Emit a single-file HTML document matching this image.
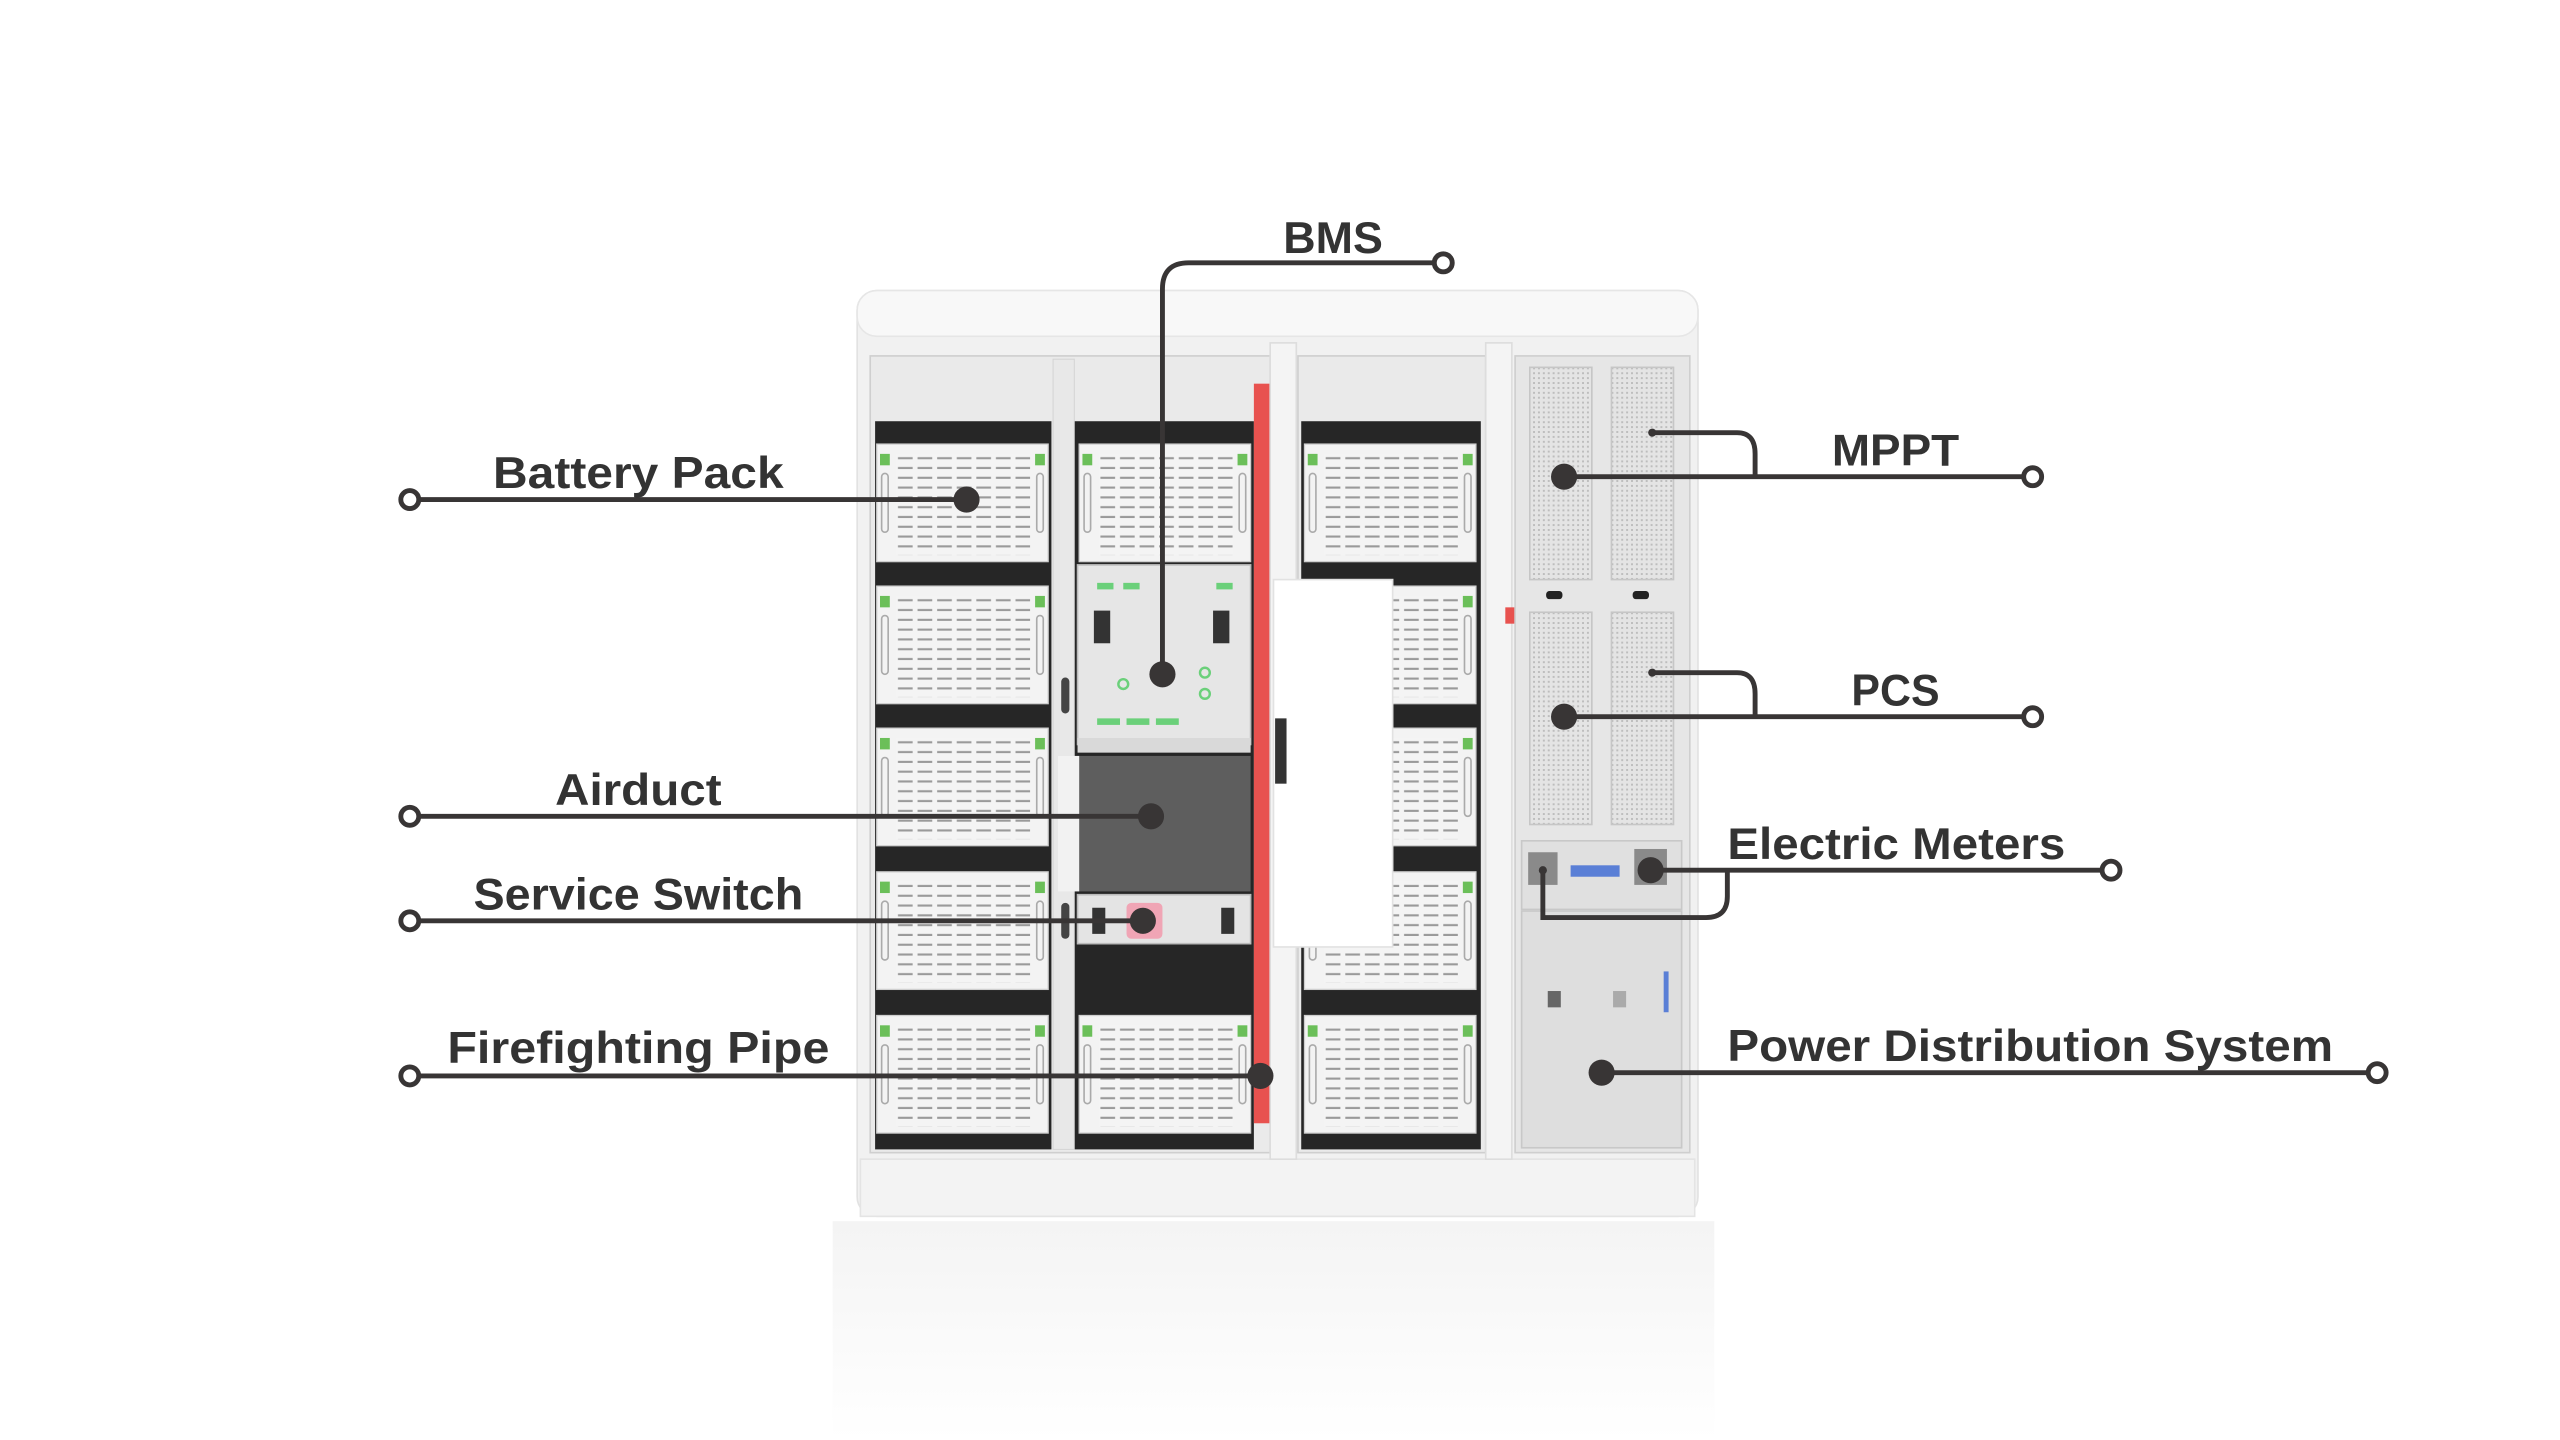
<!DOCTYPE html>
<html><head><meta charset="utf-8"><style>
html,body{margin:0;padding:0;background:#fff;width:2560px;height:1440px;overflow:hidden}
svg{display:block}
text{font-family:"Liberation Sans",sans-serif;font-weight:bold;fill:#333}
</style></head><body>
<svg width="2560" height="1440" viewBox="0 0 1568 882" xmlns="http://www.w3.org/2000/svg">
<defs>
<pattern id="slots" width="12" height="6" patternUnits="userSpaceOnUse">
<rect width="12" height="6" fill="#f4f4f4"/><rect x="1" y="2" width="9" height="1.3" fill="#9a9a9a"/>
</pattern>
<pattern id="dots" width="3" height="3" patternUnits="userSpaceOnUse">
<rect width="3" height="3" fill="#e4e4e4"/><rect width="1.2" height="1.2" fill="#bdbdbd"/>
</pattern>
<linearGradient id="refl" x1="0" y1="0" x2="0" y2="1">
<stop offset="0" stop-color="#f4f4f4"/><stop offset="1" stop-color="#ffffff"/>
</linearGradient>
<g id="mod">
<rect x="0" y="0" width="105" height="72" fill="#f3f3f3" stroke="#cfcfcf" stroke-width="0.8"/>
<rect x="12" y="6" width="82" height="62" fill="url(#slots)"/>
<rect x="2" y="6" width="6" height="7" fill="#6bbf59"/><rect x="97" y="6" width="6" height="7" fill="#6bbf59"/>
<rect x="3" y="18" width="4" height="36" rx="2" fill="none" stroke="#aaa" stroke-width="1"/>
<rect x="98" y="18" width="4" height="36" rx="2" fill="none" stroke="#aaa" stroke-width="1"/>
</g>
</defs>
<!-- faint reflection -->
<rect x="510" y="748" width="540" height="134" fill="url(#refl)"/>
<!-- cabinet -->
<rect x="525" y="178" width="515" height="567" rx="12" fill="#f1f1f1" stroke="#e2e2e2"/>
<rect x="525" y="178" width="515" height="28" rx="12" fill="#f8f8f8" stroke="#e6e6e6"/>
<rect x="527" y="710" width="511" height="35" fill="#f3f3f3" stroke="#e4e4e4"/>
<!-- column 1 -->
<rect x="533" y="218" width="245" height="488" fill="#eaeaea" stroke="#cfcfcf"/>
<rect x="536" y="258" width="108" height="446" fill="#262626"/>
<rect x="658" y="258" width="110" height="446" fill="#262626"/>
<rect x="645" y="220" width="13" height="484" fill="#e8e8e8" stroke="#d3d3d3" stroke-width="0.6"/>
<use href="#mod" x="537" y="272"/><use href="#mod" x="537" y="359"/><use href="#mod" x="537" y="446"/><use href="#mod" x="537" y="534"/><use href="#mod" x="537" y="622"/>
<use href="#mod" x="661" y="272"/><use href="#mod" x="661" y="622"/>
<!-- BMS -->
<rect x="660" y="346" width="106" height="110" fill="#e6e6e6" stroke="#bbb"/>
<rect x="670" y="374" width="10" height="20" fill="#333"/><rect x="743" y="374" width="10" height="20" fill="#333"/>
<rect x="672" y="357" width="10" height="4" fill="#6bd07a"/><rect x="688" y="357" width="10" height="4" fill="#6bd07a"/><rect x="745" y="357" width="10" height="4" fill="#6bd07a"/>
<rect x="672" y="440" width="14" height="4" fill="#6bd07a"/><rect x="690" y="440" width="14" height="4" fill="#6bd07a"/><rect x="708" y="440" width="14" height="4" fill="#6bd07a"/>
<circle cx="688" cy="419" r="3" fill="none" stroke="#6bd07a" stroke-width="1.5"/><circle cx="738" cy="412" r="3" fill="none" stroke="#6bd07a" stroke-width="1.5"/><circle cx="738" cy="425" r="3" fill="none" stroke="#6bd07a" stroke-width="1.5"/>
<rect x="660" y="452" width="106" height="9" fill="#d9d9d9"/>
<!-- airduct -->
<rect x="660" y="463" width="106" height="83" fill="#5e5e5e"/>
<rect x="648" y="463" width="13" height="83" fill="#f2f2f2"/>
<!-- service switch -->
<rect x="660" y="548" width="106" height="30" fill="#e4e4e4" stroke="#bbb"/>
<rect x="669" y="556" width="8" height="16" fill="#333"/><rect x="748" y="556" width="8" height="16" fill="#333"/>
<rect x="690" y="553" width="22" height="22" rx="3" fill="#f0a5b5"/>
<rect x="650" y="415" width="5" height="22" rx="2.5" fill="#444"/><rect x="650" y="553" width="5" height="22" rx="2.5" fill="#444"/>
<!-- red pipe -->
<rect x="768" y="235" width="10" height="453" fill="#e8524f"/>
<rect x="778" y="210" width="16" height="500" fill="#f4f4f4" stroke="#ddd"/>
<!-- column 2 -->
<rect x="795" y="218" width="115" height="488" fill="#eaeaea" stroke="#cfcfcf"/>
<rect x="797" y="258" width="110" height="446" fill="#262626"/>
<use href="#mod" x="799" y="272"/><use href="#mod" x="799" y="359"/><use href="#mod" x="799" y="446"/><use href="#mod" x="799" y="534"/><use href="#mod" x="799" y="622"/>
<!-- door -->
<rect x="780" y="355" width="73" height="225" fill="#ffffff" stroke="#e2e2e2"/>
<rect x="781" y="440" width="7" height="40" fill="#333"/>
<rect x="910" y="210" width="16" height="500" fill="#f4f4f4" stroke="#ddd"/>
<rect x="922" y="372" width="8" height="10" fill="#e8524f"/>
<!-- column 3 -->
<rect x="928" y="218" width="107" height="488" fill="#e6e6e6" stroke="#cfcfcf"/>
<rect x="937" y="225" width="38" height="130" fill="url(#dots)" stroke="#c6c6c6"/>
<rect x="987" y="225" width="38" height="130" fill="url(#dots)" stroke="#c6c6c6"/>
<rect x="937" y="375" width="38" height="130" fill="url(#dots)" stroke="#c6c6c6"/>
<rect x="987" y="375" width="38" height="130" fill="url(#dots)" stroke="#c6c6c6"/>
<rect x="947" y="362" width="10" height="5" rx="2" fill="#222"/><rect x="1000" y="362" width="10" height="5" rx="2" fill="#222"/>
<rect x="932" y="515" width="98" height="42" fill="#e0e0e0" stroke="#c8c8c8"/>
<rect x="936" y="522" width="18" height="20" fill="#8a8a8a"/><rect x="1001" y="520" width="20" height="22" fill="#8a8a8a"/>
<rect x="962" y="530" width="30" height="7" fill="#5a7fd6"/>
<rect x="932" y="558" width="98" height="145" fill="#dedede" stroke="#c8c8c8"/>
<rect x="948" y="607" width="8" height="10" fill="#666"/><rect x="988" y="607" width="8" height="10" fill="#aaa"/>
<rect x="1019" y="595" width="3" height="25" fill="#5a7fd6"/>
<!-- connectors -->
<g stroke="#383535" stroke-width="3" fill="none">
<path d="M257 306H592"/><path d="M257 500H705"/><path d="M257 564H700"/><path d="M257 659H772"/>
<path d="M878 161H728Q712 161 712 177V413"/>
<path d="M958 292H1239"/><path d="M1012 265H1064Q1075 265 1075 278V292"/>
<path d="M958 439H1239"/><path d="M1012 412H1064Q1075 412 1075 425V439"/>
<path d="M1011 533H1287"/><path d="M945 533V562H1045Q1058 562 1058 549V533"/>
<path d="M981 657H1450"/>
</g>
<g fill="#fff" stroke="#383535" stroke-width="3">
<circle cx="251" cy="306" r="5.5"/><circle cx="251" cy="500" r="5.5"/><circle cx="251" cy="564" r="5.5"/><circle cx="251" cy="659" r="5.5"/>
<circle cx="884" cy="161" r="5.5"/><circle cx="1245" cy="292" r="5.5"/><circle cx="1245" cy="439" r="5.5"/><circle cx="1293" cy="533" r="5.5"/><circle cx="1456" cy="657" r="5.5"/>
</g>
<g fill="#383535">
<circle cx="592" cy="306" r="8"/><circle cx="712" cy="413" r="8"/><circle cx="705" cy="500" r="8"/><circle cx="700" cy="564" r="8"/><circle cx="772" cy="659" r="8"/>
<circle cx="958" cy="292" r="8"/><circle cx="958" cy="439" r="8"/><circle cx="1011" cy="533" r="8"/><circle cx="981" cy="657" r="8"/>
<circle cx="1012" cy="265" r="2.5"/><circle cx="1012" cy="412" r="2.5"/><circle cx="945" cy="533" r="2.5"/>
</g>
<g font-size="27" lengthAdjust="spacingAndGlyphs">
<text x="786" y="155" textLength="61" lengthAdjust="spacingAndGlyphs">BMS</text>
<text x="302" y="299" textLength="178" lengthAdjust="spacingAndGlyphs">Battery Pack</text>
<text x="340" y="493" textLength="102" lengthAdjust="spacingAndGlyphs">Airduct</text>
<text x="290" y="557" textLength="202" lengthAdjust="spacingAndGlyphs">Service Switch</text>
<text x="274" y="651" textLength="234" lengthAdjust="spacingAndGlyphs">Firefighting Pipe</text>
<text x="1122" y="285" textLength="78" lengthAdjust="spacingAndGlyphs">MPPT</text>
<text x="1134" y="432" textLength="54" lengthAdjust="spacingAndGlyphs">PCS</text>
<text x="1058" y="526" textLength="207" lengthAdjust="spacingAndGlyphs">Electric Meters</text>
<text x="1058" y="650" textLength="371" lengthAdjust="spacingAndGlyphs">Power Distribution System</text>
</g>
</svg>
</body></html>
